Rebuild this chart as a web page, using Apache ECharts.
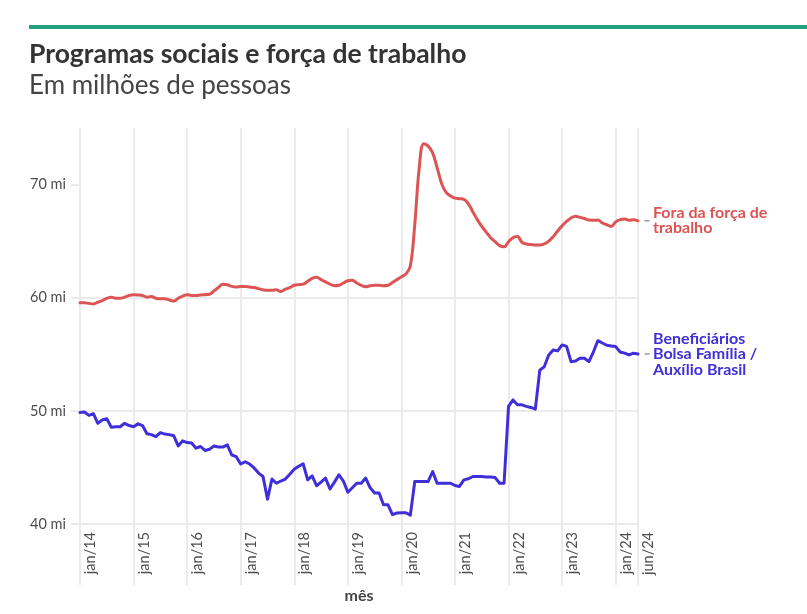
<!DOCTYPE html>
<html>
<head>
<meta charset="utf-8">
<script src="https://cdn.jsdelivr.net/npm/echarts@6/dist/echarts.min.js"></script>
<style>
html,body{margin:0;padding:0;background:#fff;}
#chart{width:807px;height:614px;}
</style>
</head>
<body>
<div id="chart"></div>
<script>
// Month labels (jan/14 .. jun/24)
const monthNames = ['jan','fev','mar','abr','mai','jun','jul','ago','set','out','nov','dez'];
const years = ['14','15','16','17','18','19','20','21','22','23','24'];
const categories = [];
years.forEach(y => monthNames.forEach((m, k) => { if (y !== '24' || k < 6) categories.push(m + '/' + y); }));

// Fora da força de trabalho (milhões)
const foraForca = [
  59.55,59.55,59.5,59.45,59.6,59.75,59.95,60.05,59.95,59.95,60.05,60.2,
  60.27,60.25,60.2,60.05,60.1,59.95,59.9,59.9,59.8,59.7,59.95,60.15,
  60.27,60.2,60.2,60.25,60.27,60.3,60.6,60.9,61.2,61.15,61.0,60.95,
  61.0,61.0,60.95,60.9,60.8,60.7,60.65,60.65,60.7,60.55,60.75,60.9,
  61.1,61.15,61.2,61.45,61.7,61.8,61.6,61.4,61.2,61.06,61.1,61.3,
  61.5,61.55,61.3,61.1,60.97,61.05,61.1,61.1,61.05,61.1,61.35,61.6,
  61.85,62.1,62.8,66.5,71.5,73.6,73.4,72.8,71.5,70.1,69.3,69.0,
  68.8,68.75,68.7,68.3,67.6,66.9,66.3,65.8,65.3,64.95,64.6,64.5,
  64.95,65.3,65.4,64.9,64.75,64.7,64.65,64.65,64.75,65.0,65.4,65.9,
  66.35,66.75,67.05,67.2,67.1,67.0,66.86,66.85,66.86,66.6,66.45,66.3,
  66.7,66.9,66.95,66.85,66.9,66.8
];

// Beneficiários Bolsa Família / Auxílio Brasil (milhões)
const beneficiarios = [
  49.85,49.9,49.6,49.75,48.9,49.2,49.3,48.56,48.6,48.6,48.9,48.7,
  48.6,48.85,48.7,47.97,47.9,47.73,48.08,47.95,47.9,47.8,46.9,47.35,
  47.2,47.15,46.7,46.85,46.5,46.6,46.9,46.8,46.8,47.0,46.1,45.95,
  45.3,45.5,45.3,44.95,44.5,44.2,42.2,43.97,43.6,43.8,43.97,44.4,
  44.85,45.1,45.32,43.9,44.26,43.38,43.7,44.06,43.09,43.7,44.35,43.8,
  42.8,43.2,43.6,43.6,44.06,43.2,42.74,42.74,41.7,41.7,40.82,40.97,
  41.0,41.0,40.78,43.76,43.76,43.76,43.76,44.64,43.6,43.6,43.6,43.6,
  43.4,43.32,43.9,44.0,44.2,44.2,44.2,44.15,44.15,44.1,43.6,43.6,
  50.4,50.97,50.53,50.53,50.4,50.3,50.15,53.6,53.9,54.94,55.38,55.3,
  55.83,55.7,54.35,54.4,54.65,54.65,54.35,55.2,56.2,56.0,55.8,55.74,
  55.68,55.2,55.1,54.94,55.1,55.03
];

const yTicks = [40, 50, 60, 70];
const seriesNames = ['Fora da força de\ntrabalho', 'Beneficiários\nBolsa Família /\nAuxílio Brasil'];

const RED = '#dc5453';
const BLUE = '#3f2fd8';
const GRID = '#ebebeb';
const FONT = 'Lato, "Open Sans", sans-serif';

const lastIdx = categories.length - 1;
const showTick = (i) => i % 12 === 0 || i === lastIdx;

function endMark(vals) {
  return {
    silent: true,
    symbol: 'rect',
    symbolSize: [5, 1.5],
    symbolOffset: [9, 0],
    itemStyle: { color: '#9a9a9a' },
    label: { show: false },
    data: [{ coord: [categories[lastIdx], vals[lastIdx]] }]
  };
}

const chart = echarts.init(document.getElementById('chart'), null, { renderer: 'canvas' });
chart.setOption({
  animation: false,
  backgroundColor: '#ffffff',
  textStyle: { fontFamily: FONT },
  title: [
    { text: 'Programas sociais e força de trabalho', left: 29, top: 41, padding: 0,
      textStyle: { fontFamily: FONT, fontSize: 26.5, fontWeight: 'bold', color: '#333333' } },
    { text: 'Em milhões de pessoas', left: 29, top: 73, padding: 0,
      textStyle: { fontFamily: FONT, fontSize: 26, fontWeight: 'normal', color: '#444444' } }
  ],
  graphic: [
    { type: 'rect', left: 29, top: 25, shape: { width: 780, height: 4 }, style: { fill: '#21a07c' }, silent: true }
  ],
  grid: { left: 80, right: 169, top: 128, bottom: 90, containLabel: false },
  xAxis: {
    type: 'category',
    data: categories,
    boundaryGap: false,
    name: 'mês',
    nameLocation: 'middle',
    nameGap: 64,
    nameTextStyle: { fontFamily: FONT, fontSize: 16, fontWeight: 'bold', color: '#444444' },
    axisLine: { show: false },
    axisTick: { show: true, interval: (i) => showTick(i), length: 61, lineStyle: { color: GRID, width: 2 } },
    splitLine: { show: true, interval: (i) => showTick(i), lineStyle: { color: GRID, width: 2 } },
    axisLabel: {
      interval: (i) => showTick(i),
      rotate: 90,
      margin: 8,
      verticalAlign: 'top',
      padding: [3, 0, 0, 0],
      fontFamily: FONT,
      fontSize: 14.5,
      color: '#4d4d4d'
    }
  },
  yAxis: {
    type: 'value',
    min: 40,
    max: 75,
    interval: 10,
    axisLine: { show: false },
    axisTick: { show: true, customValues: yTicks, length: 9, lineStyle: { color: GRID, width: 2 } },
    splitLine: { show: true, showMaxLine: false, lineStyle: { color: GRID, width: 2 } },
    axisLabel: {
      customValues: yTicks,
      margin: 14,
      fontFamily: FONT,
      fontSize: 14.5,
      color: '#4d4d4d',
      formatter: (v) => v + ' mi'
    }
  },
  series: [
    {
      name: seriesNames[0],
      type: 'line',
      data: foraForca,
      smooth: 0.4,
      showSymbol: false,
      lineStyle: { color: RED, width: 3, join: 'round', cap: 'round' },
      itemStyle: { color: RED },
      endLabel: {
        show: true,
        formatter: () => seriesNames[0],
        distance: 15,
        color: RED,
        fontFamily: FONT,
        fontSize: 16,
        fontWeight: 'bold',
        lineHeight: 15,
        align: 'left',
        verticalAlign: 'middle'
      },
      markPoint: endMark(foraForca)
    },
    {
      name: seriesNames[1],
      type: 'line',
      data: beneficiarios,
      smooth: false,
      showSymbol: false,
      lineStyle: { color: BLUE, width: 3, join: 'round', cap: 'round' },
      itemStyle: { color: BLUE },
      endLabel: {
        show: true,
        formatter: () => seriesNames[1],
        distance: 15,
        color: BLUE,
        fontFamily: FONT,
        fontSize: 16,
        fontWeight: 'bold',
        lineHeight: 15.5,
        align: 'left',
        verticalAlign: 'middle'
      },
      markPoint: endMark(beneficiarios)
    }
  ]
});
</script>
</body>
</html>
